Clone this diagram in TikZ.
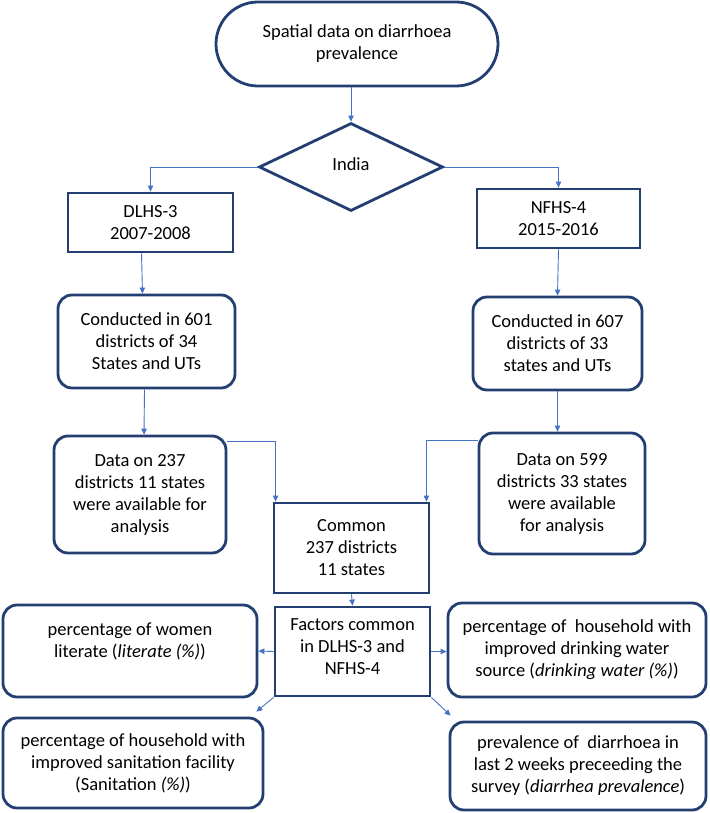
\documentclass[tikz,border=0pt]{standalone}
\usepackage{fontspec}
\setmainfont{Carlito}
\usetikzlibrary{arrows.meta,shapes.geometric,calc}
\definecolor{boxc}{RGB}{35,62,112}
\definecolor{arrc}{RGB}{68,114,196}
\begin{document}
\begin{tikzpicture}[x=1pt,y=-1pt,
  font=\fontsize{18.5}{22}\selectfont,
  box/.style={draw=boxc, line width=2.8pt, align=center, inner sep=0pt, text=black},
  rbox/.style={box, rounded corners=14pt},
  term/.style={box, rounded corners=42pt},
  arr/.style={draw=arrc, line width=0.9pt, -{Triangle[length=6pt,width=5.5pt]}}]
\useasboundingbox (0,0) rectangle (709,813);

\node[term, minimum width=282pt, minimum height=84pt] (t) at (357,44) {Spatial data on diarrhoea\\prevalence};
\node[diamond, draw=boxc, line width=2.8pt, minimum width=184pt, minimum height=88pt, inner sep=0pt, aspect=2.1] (d) at (351,167) {\raisebox{5pt}{India}};

\node[box, minimum width=165pt, minimum height=59pt] (dl) at (150.5,222.5) {DLHS-3\\2007-2008};
\node[box, minimum width=163pt, minimum height=59pt] (nf) at (558.5,218.5) {NFHS-4\\2015-2016};

\node[rbox, minimum width=177pt, minimum height=93pt] (cl) at (146.5,341.5) {Conducted in 601\\districts of 34\\States and UTs};
\node[rbox, minimum width=169pt, minimum height=93pt] (cr) at (557.5,343.5) {Conducted in 607\\districts of 33\\states and UTs};

\node[rbox, minimum width=172pt, minimum height=117pt] (dal) at (140,494.5) {Data on 237\\districts 11 states\\were available for\\analysis};
\node[rbox, minimum width=166pt, minimum height=121pt] (dar) at (562,493.5) {Data on 599\\districts 33 states\\were available\\for analysis};

\node[box, minimum width=155pt, minimum height=90pt] (com) at (351.5,548) {Common\\237 districts\\11 states};
\node[box, minimum width=155pt, minimum height=89pt] (fac) at (352.5,651.5) {Factors common\\in DLHS-3 and\\NFHS-4\\[-12pt]\mbox{}};

\node[rbox, minimum width=254pt, minimum height=92pt] (lit) at (130,651) {percentage of women\\literate (\textit{literate (\%)})\\ \mbox{}};
\node[rbox, minimum width=258pt, minimum height=94pt] (wat) at (577,650) {percentage of~ household with\\improved drinking water\\source (\textit{drinking water (\%)})};
\node[rbox, minimum width=260pt, minimum height=90pt] (san) at (133,763) {percentage of household with\\improved sanitation facility\\(Sanitation \textit{(\%)})};
\node[rbox, minimum width=256pt, minimum height=88pt] (prev) at (578,766) {prevalence of~ diarrhoea in\\last 2 weeks preceeding the\\survey (\textit{diarrhea prevalence})};

\draw[arr] (t.south -| d.north) -- (d.north);
\draw[arr] (d.west) -| (dl.north);
\draw[arr] (d.east) -| (nf.north);
\draw[arr] ([xshift=-9pt]dl.south) -- ([xshift=-4pt]cl.north);
\draw[arr] (nf.south) -- (cr.north);
\draw[arr] ([xshift=-2pt]cl.south) -- ([xshift=4pt]dal.north);
\draw[arr] (cr.south) -- (cr.south |- dar.north);
\draw[arr] ([yshift=-7pt]dal.north east) -| ([xshift=3pt]com.north west);
\draw[arr] ([yshift=-9pt]dar.north west) -| ([xshift=-4pt]com.north east);
\draw[arr] (com.south) -- (fac.north);
\draw[arr] (fac.west) -- (lit.east);
\draw[arr] (fac.east) -- (fac.east -| wat.west);
\draw[arr] (fac.south west) -- ([xshift=-8pt,yshift=5pt]san.north east);
\draw[arr] (fac.south east) -- ([xshift=2pt,yshift=5pt]prev.north west);
\end{tikzpicture}
\end{document}
